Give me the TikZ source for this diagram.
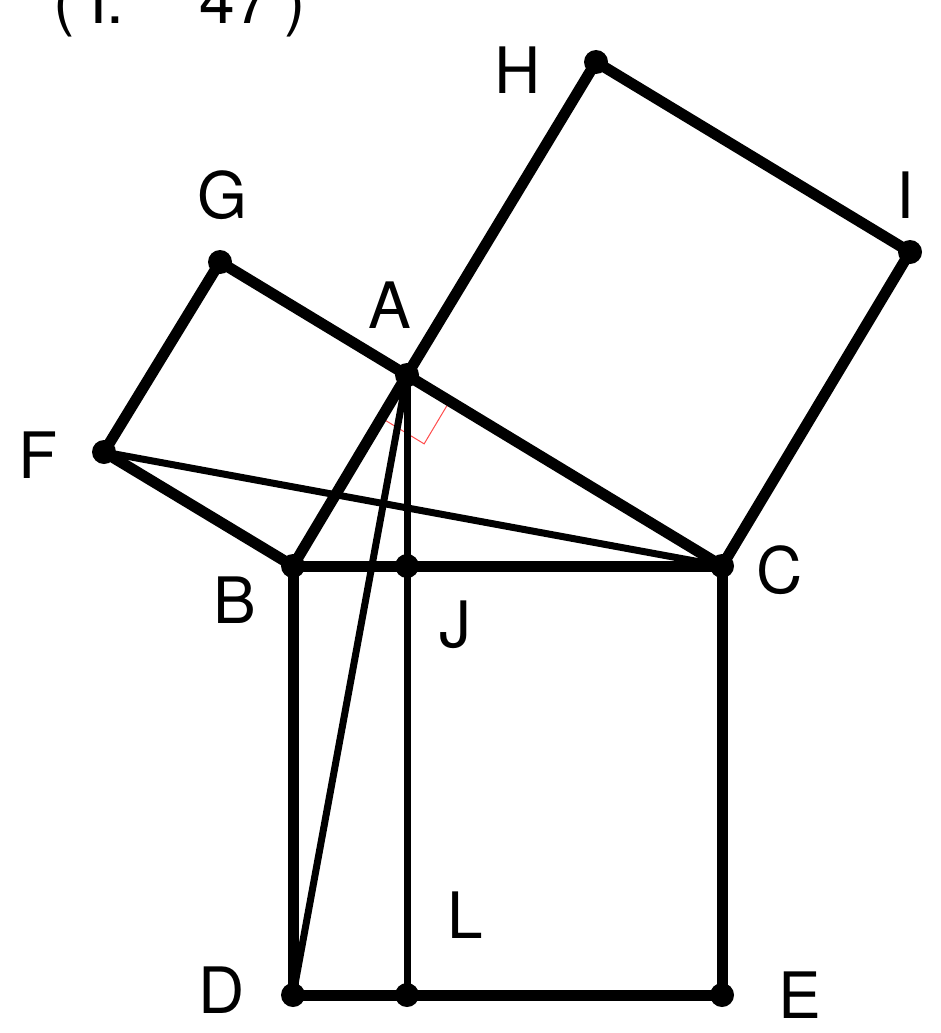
\documentclass[tikz,border=0pt]{standalone}
\usepackage{fontspec}
\setmainfont{TeX Gyre Heros}
\usetikzlibrary{calc}
\begin{document}
\begin{tikzpicture}[x=1pt,y=-1pt,
  thick line/.style={line width=11pt,line cap=round,line join=round},
  thin line/.style={line width=7pt,line cap=round},
  vdot/.style={circle,fill=black,inner sep=0pt,minimum size=24pt},
  lbl/.style={font=\fontsize{64}{70}\selectfont}]
\useasboundingbox (0,0) rectangle (940,1033);
\clip (0,0) rectangle (940,1033);
\coordinate (A) at (407,375);
\coordinate (B) at (293,566);
\coordinate (C) at (722,566);
\coordinate (D) at (293,995);
\coordinate (E) at (722,995);
\coordinate (J) at (407,566);
\coordinate (L) at (407,995);
\coordinate (F) at (104,452);
\coordinate (G) at (220,262);
\coordinate (H) at (596,62);
\coordinate (I) at (910,252);
% right angle mark
\draw[red!70!white,line width=1pt] ($(A)!50pt!(B)$) -- ($(A)!50pt!(B)+(A)!50pt!(C)-(A)$) -- ($(A)!50pt!(C)$);
% thin lines
\draw[thin line] (F) -- (C);
\draw[thin line] (A) -- (D);
\draw[thin line] (A) -- (L);
% thick lines
\draw[thick line] (B) -- (F) -- (G) -- (C);
\draw[thick line] (B) -- (A) -- (H) -- (I) -- (C);
\draw[thick line] (B) -- (C) -- (E) -- (D) -- cycle;
\foreach \p in {A,B,C,D,E,F,G,H,I,J,L} \node[vdot] (n\p) at (\p) {};
% labels
\node[lbl] (tA) at (390,305) {A};
\node[lbl] (tB) at (235,600) {B};
\node[lbl] (tC) at (780,570) {C};
\node[lbl] (tD) at (222,990) {D};
\node[lbl] (tE) at (800,995) {E};
\node[lbl] (tF) at (38,455) {F};
\node[lbl] (tG) at (222,195) {G};
\node[lbl] (tH) at (518,70) {H};
\node[lbl] (tI) at (905,195) {I};
\node[lbl] (tJ) at (455,625) {J};
\node[lbl] (tL) at (465,915) {L};
\node[lbl,anchor=base,inner sep=0pt] (title) at (180,24) {(\hspace{14pt}I.\hspace{75pt}47\hspace{14pt})};
\end{tikzpicture}
\end{document}
